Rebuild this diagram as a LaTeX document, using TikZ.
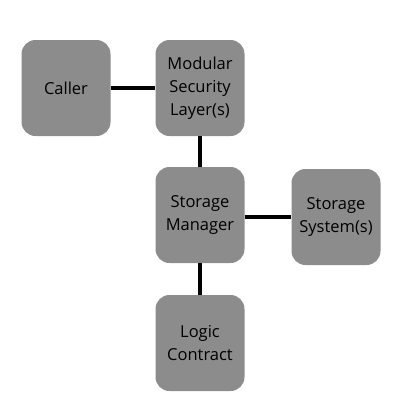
\documentclass[tikz,border=0pt]{standalone}
\usepackage{fontspec}
\setmainfont{Open Sans}
\usetikzlibrary{positioning}

\definecolor{boxgray}{RGB}{140,140,140}
\tikzset{
  block/.style={fill=boxgray, rounded corners=14pt, minimum width=89pt,
    minimum height=96pt, text width=87pt, inner sep=1pt, align=center,
    font=\fontsize{16.5}{23}\selectfont},
  link/.style={line width=4pt, black}
}

\begin{document}
\begin{tikzpicture}[x=1pt,y=-1pt]
\useasboundingbox (0,0) rectangle (400,400);
% boxes
\node[block] (caller) at (66,88) {Caller};
\node[block] (security) at (200,88) {Modular\\Security\\Layer(s)};
\node[block] (manager) at (200,215) {Storage\\Manager};
\node[block] (system) at (336,217) {Storage\\System(s)};
\node[block] (logic) at (200,343) {Logic\\Contract};
% links
\draw[link] (caller) -- (security);
\draw[link] (security) -- (manager);
\draw[link] (manager.east |- system) -- (system);
\draw[link] (manager) -- (logic);
\end{tikzpicture}
\end{document}
